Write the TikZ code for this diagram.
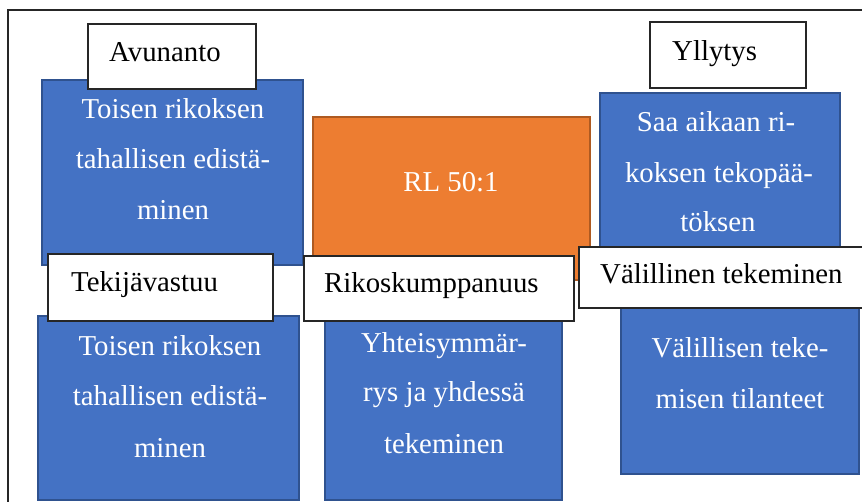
\documentclass[tikz,border=0pt]{standalone}
\usepackage{fontspec}
\setmainfont{Liberation Serif}
\definecolor{blueF}{HTML}{4472C4}
\definecolor{blueD}{HTML}{2F528F}
\definecolor{orangeF}{HTML}{ED7D31}
\definecolor{orangeD}{HTML}{AE5A21}
\tikzset{
  box/.style={anchor=north west, inner sep=0pt, outer sep=0pt},
  bluebox/.style={box, fill=blueF, draw=blueD, line width=1.4pt},
  orangebox/.style={box, fill=orangeF, draw=orangeD, line width=1.4pt},
  labelbox/.style={box, fill=white, draw=black!85, line width=1.2pt},
  wtxt/.style={anchor=base, inner sep=0pt, text=white, font=\fontsize{28.8}{30}\selectfont},
  btxt/.style={anchor=base west, inner sep=0pt, text=black, font=\fontsize{28.8}{30}\selectfont},
  frame/.style={draw=black!85, line width=2pt}
}
\newcommand{\boxnode}[6]{\node[#1, minimum width=#5-#3, minimum height=#6-#4] (#2) at (#3,#4) {};}
\begin{document}
\begin{tikzpicture}[x=1pt,y=-1pt]
\useasboundingbox (0,0) rectangle (862,502);
\clip (0,0) rectangle (862,502);
\coordinate (fa) at (8,520);
\coordinate (fb) at (8,10);
\coordinate (fc) at (880,10);
\draw[frame] (fa) -- (fb) -- (fc);
% blue and orange boxes
\boxnode{bluebox}{blueTL}{42}{80}{303}{265}
\boxnode{bluebox}{blueTR}{600}{93}{840}{250}
\boxnode{orangebox}{orange}{313}{117}{590}{280}
\boxnode{bluebox}{blueBL}{38}{316}{299}{500}
\boxnode{bluebox}{blueBM}{325}{314}{562}{500}
\boxnode{bluebox}{blueBR}{621}{300}{859}{474}
% label boxes
\boxnode{labelbox}{lblAv}{88}{24}{256}{89}
\boxnode{labelbox}{lblYl}{650}{22}{806}{88}
\boxnode{labelbox}{lblTe}{48}{254}{273}{321}
\boxnode{labelbox}{lblRi}{304}{256}{574}{321}
\boxnode{labelbox}{lblVa}{579}{247}{880}{308}
% label texts
\node[btxt] (tAv) at (109,62) {Avunanto};
\node[btxt] (tYl) at (672,61) {Yllytys};
\node[btxt] (tTe) at (71,292) {Tekijävastuu};
\node[btxt] (tRi) at (324,293) {Rikoskumppanuus};
\node[btxt] (tVa) at (600,284) {Välillinen tekeminen};
% orange text
\node[wtxt] (tRL) at (451,192) {RL 50:1};
% top-left
\node[wtxt] (tTL1) at (173,119) {Toisen rikoksen};
\node[wtxt] (tTL2) at (173,169) {tahallisen edistä-};
\node[wtxt] (tTL3) at (173,220) {minen};
% top-right
\node[wtxt] (tTR1) at (716,132) {Saa aikaan ri-};
\node[wtxt] (tTR2) at (719,183) {koksen tekopää-};
\node[wtxt] (tTR3) at (718,232) {töksen};
% bottom-left
\node[wtxt] (tBL1) at (170,356) {Toisen rikoksen};
\node[wtxt] (tBL2) at (170,406) {tahallisen edistä-};
\node[wtxt] (tBL3) at (170,457) {minen};
% bottom-middle
\node[wtxt] (tBM1) at (444,353) {Yhteisymmär-};
\node[wtxt] (tBM2) at (444,402) {rys ja yhdessä};
\node[wtxt] (tBM3) at (444,453) {tekeminen};
% bottom-right
\node[wtxt] (tBR1) at (740,358) {Välillisen teke-};
\node[wtxt] (tBR2) at (740,408) {misen tilanteet};
\end{tikzpicture}
\end{document}
